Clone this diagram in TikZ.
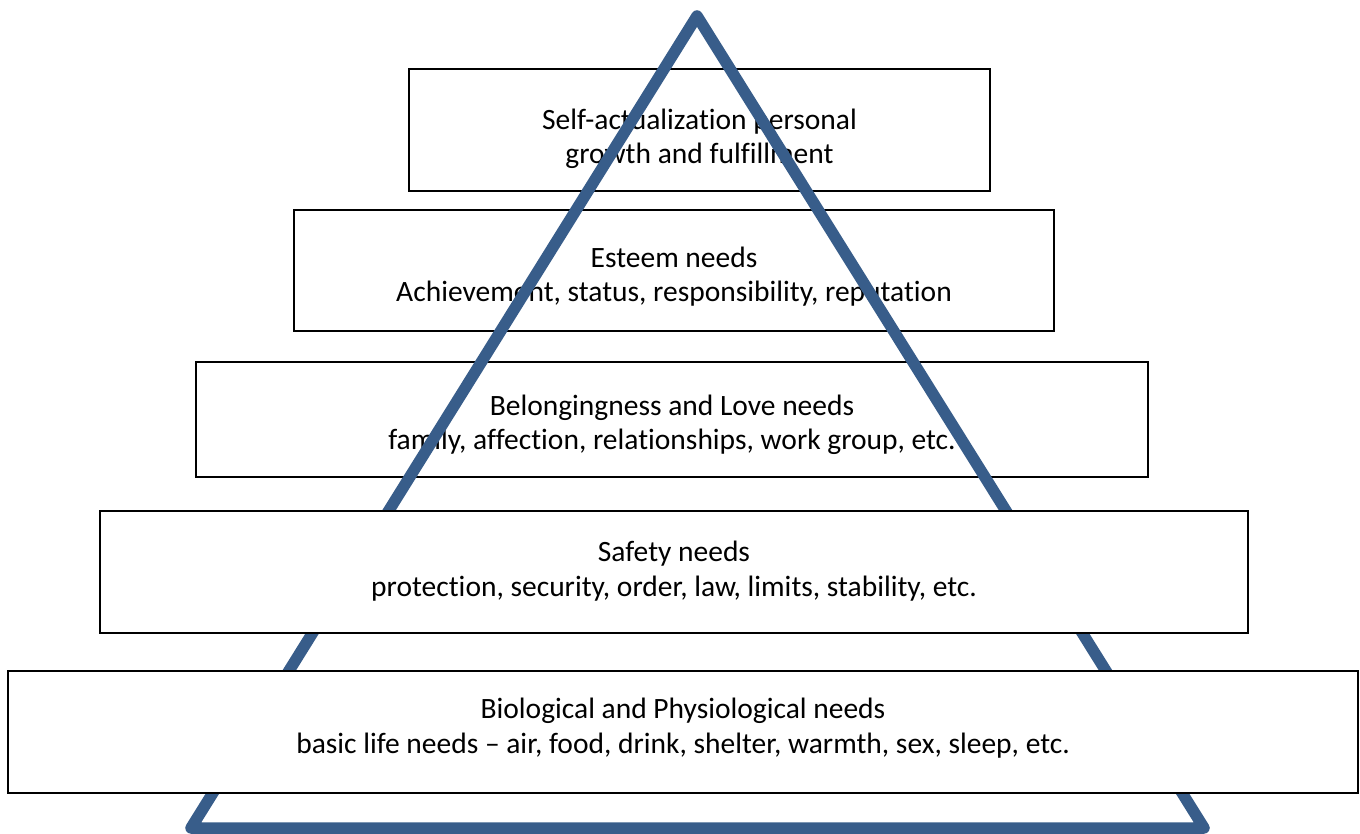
\documentclass[tikz,border=0pt]{standalone}
\usepackage{fontspec}
\setmainfont{Carlito}[Ligatures=NoCommon]
\definecolor{pyramidblue}{HTML}{385D8A}
% two lines of a tier, first line lowered by a strut of the given height
\newcommand{\tier}[3]{\rule{0pt}{#1}#2\\#3\rule[-20pt]{0pt}{0pt}}

\begin{document}
\begin{tikzpicture}
[x=1pt,y=-1pt,
 every node/.style={draw=black,line width=2pt,inner sep=0mm,outer sep=0mm,align=center,
   font=\fontsize{29.5}{34.5}\selectfont},
 open/.style={rectangle},
 solid/.style={rectangle,fill=white},
 edgeline/.style={draw=pyramidblue,line width=11.5pt,line join=round,line cap=round}]
\useasboundingbox (0,0) rectangle (1360,834);
\node[open]  (self)   [minimum width=581pt,minimum height=122pt] at (699.5,130)
  {\tier{53pt}{Self-actualization personal}{growth and fulfillment}};
\node[open]  (esteem) [minimum width=760pt,minimum height=121pt] at (674,270.5)
  {\tier{48pt}{Esteem needs}{Achievement, status, responsibility, reputation}};
\node[open]  (love)   [minimum width=952pt,minimum height=115pt] at (672,419.5)
  {\tier{46pt}{Belongingness and Love needs}{family, affection, relationships, work group, etc.}};
\coordinate (apex)  at (697,16);
\coordinate (left)  at (191,828);
\coordinate (right) at (1204,828);
\path[edgeline] (apex) -- (left) -- (right) -- cycle;
\node[solid] (safety) [minimum width=1148pt,minimum height=122pt] at (674,572)
  {\tier{34pt}{Safety needs}{protection, security, order, law, limits, stability, etc.}};
\node[solid] (bio)    [minimum width=1350pt,minimum height=122pt] at (683,732)
  {\tier{28pt}{Biological and Physiological needs}{basic life needs -- air, food, drink, shelter, warmth, sex, sleep, etc.}};
\end{tikzpicture}
\end{document}
